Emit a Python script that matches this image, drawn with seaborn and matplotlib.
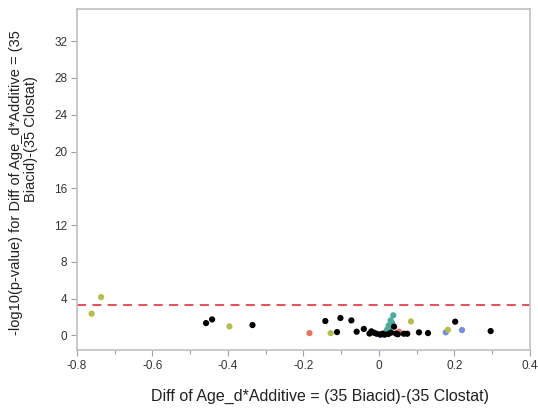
import matplotlib
matplotlib.use("Agg")
import matplotlib.pyplot as plt
import seaborn as sns
import pandas as pd
from matplotlib.ticker import MultipleLocator

# Effect estimates (x) and -log10(p) (y) per colour group
black_x = [-0.458, -0.442, -0.335, -0.142, -0.102, -0.111, -0.073, -0.059, -0.040,
           -0.020, -0.013, -0.006, 0.003, 0.009, 0.015, 0.025, 0.032, 0.040, 0.045,
           0.066, 0.075, 0.106, 0.130, 0.202, 0.296, -0.025, 0.050]
black_y = [1.34, 1.74, 1.12, 1.56, 1.89, 0.36, 1.63, 0.40, 0.70,
           0.44, 0.29, 0.18, 0.10, 0.18, 0.08, 0.15, 0.30, 0.95, 0.20,
           0.18, 0.18, 0.33, 0.25, 1.49, 0.47, 0.20, 0.12]
olive_x = [-0.761, -0.736, -0.396, -0.128, 0.085, 0.183]
olive_y = [2.36, 4.17, 0.98, 0.25, 1.52, 0.62]
salmon_x = [-0.184, 0.053]
salmon_y = [0.25, 0.40]
teal_x = [0.020, 0.022, 0.026, 0.028, 0.031, 0.035, 0.038]
teal_y = [0.40, 0.65, 1.09, 0.85, 1.63, 1.35, 2.18]
blue_x = [0.005, 0.012, 0.018, 0.177, 0.220]
blue_y = [0.05, 0.15, 0.35, 0.33, 0.58]

threshold = 3.27

x_ticks = [-0.8, -0.6, -0.4, -0.2, 0, 0.2, 0.4]
x_tick_labels = ["-0.8", "-0.6", "-0.4", "-0.2", "0", "0.2", "0.4"]
y_ticks = [0, 4, 8, 12, 16, 20, 24, 28, 32]

groups = {"blue": (blue_x, blue_y), "teal": (teal_x, teal_y),
          "salmon": (salmon_x, salmon_y), "olive": (olive_x, olive_y),
          "black": (black_x, black_y)}
palette = {"black": "#000000", "olive": "#b5bd4e", "salmon": "#e5735e",
           "teal": "#4aab9a", "blue": "#7090dc"}

frames = [pd.DataFrame({"diff": gx, "logp": gy, "group": g}) for g, (gx, gy) in groups.items()]
df = pd.concat(frames, ignore_index=True)

sns.set_theme(style="white")
plt.rcParams["font.family"] = ["Liberation Sans", "DejaVu Sans"]

fig = plt.figure(figsize=(5.38, 4.09), dpi=100)
ax = fig.add_axes([0.143, 0.144, 0.842, 0.834])

sns.scatterplot(data=df, x="diff", y="logp", hue="group", palette=palette,
                s=20, edgecolor="none", legend=False, ax=ax, zorder=3)

ax.axhline(threshold, color="#e8404f", linestyle=(0, (5, 3.5)), linewidth=1.3, zorder=2)

ax.set_xlim(-0.8, 0.4)
ax.set_ylim(-1.6, 35.5)
ax.set_xticks(x_ticks)
ax.set_xticklabels(x_tick_labels)
ax.xaxis.set_minor_locator(MultipleLocator(0.1))
ax.set_yticks(y_ticks)
ax.set_yticklabels([str(v) for v in y_ticks])

ax.tick_params(axis="both", which="major", direction="out", length=4, width=0.8,
               color="#a0a0a0", labelsize=8.5, labelcolor="#333333", pad=3,
               bottom=True, left=True)
ax.tick_params(axis="x", which="minor", direction="out", length=3, width=0.8,
               color="#a0a0a0", bottom=True)

for side in ["left", "bottom", "top", "right"]:
    ax.spines[side].set_visible(True)
    ax.spines[side].set_color("#c0c0c0")
    ax.spines[side].set_linewidth(1.2)

ax.set_xlabel("Diff of Age_d*Additive = (35 Biacid)-(35 Clostat)",
              fontsize=11.5, color="#222222")
ax.xaxis.set_label_coords(0.536, -0.115)
ax.set_ylabel("")

# y-axis title wrapped over two lines
fig.text(0.029, 0.553, "-log10(p-value) for Diff of Age_d*Additive = (35",
         rotation=90, ha="center", va="center", fontsize=10.5, color="#222222")
fig.text(0.058, 0.66, "Biacid)-(35 Clostat)",
         rotation=90, ha="center", va="center", fontsize=10.5, color="#222222")

fig.savefig("out.png", dpi=100)
